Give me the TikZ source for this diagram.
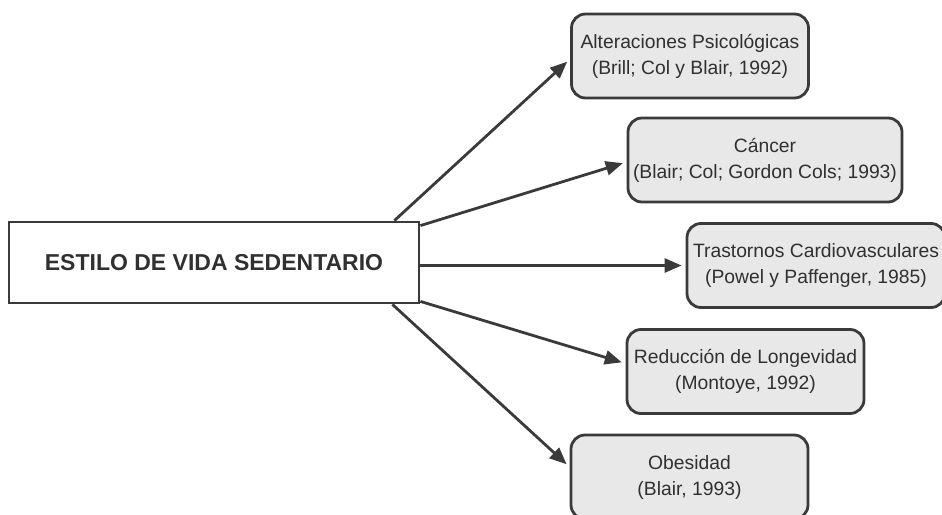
\documentclass[tikz,border=0pt]{standalone}
\usepackage{fontspec}
\setmainfont{Liberation Sans}
\usetikzlibrary{arrows.meta, positioning, calc}
\definecolor{Ink}{HTML}{303030}
\definecolor{Wire}{HTML}{3a3a3a}
\definecolor{Mist}{HTML}{e8e8e8}
\tikzset{
    causa/.style={draw=Wire, fill=white, line width=2.8pt, minimum width=410pt, minimum height=81pt, text=Ink, font=\fontsize{23}{27}\selectfont\bfseries},
    efecto/.style={draw=Wire, fill=Mist, line width=2.8pt, rounded corners=14pt, minimum width=237pt, minimum height=84pt, align=center, text=Ink, font=\fontsize{19.3}{26}\selectfont},
    flecha/.style={Wire, line width=2.8pt, -{Triangle[length=17pt, width=14pt]}, shorten >=4pt}
}
\begin{document}
\begin{tikzpicture}[x=1pt, y=-1pt]
            \useasboundingbox (0, 0) rectangle (942, 514);

            % Central box
            \node[causa] (sed) at (214, 262.5) {ESTILO DE VIDA SEDENTARIO};

            % Effects
            \node[efecto] (psi) at (690, 56) {Alteraciones Psicológicas\\(Brill; Col y Blair, 1992)};
            \node[efecto, minimum width=274pt] (can) at (765, 160) {Cáncer\\(Blair; Col; Gordon Cols; 1993)};
            \node[efecto, minimum width=258pt] (car) at (816, 265.5) {Trastornos Cardiovasculares\\(Powel y Paffenger, 1985)};
            \node[efecto] (lon) at (745.5, 371.5) {Reducción de Longevidad\\(Montoye, 1992)};
            \node[efecto] (obe) at (689.5, 477) {Obesidad\\(Blair, 1993)};

            \draw[flecha] ([xshift=-26pt]sed.north east) -- ([yshift=-3pt]psi.west);
            \draw[flecha] ([yshift=-5pt]sed.north east) -- ([yshift=-2pt]can.west);
            \draw[flecha] ([yshift=-3pt]sed.east) -- (car.west);
            \draw[flecha] ([yshift=3pt]sed.south east) -- ([yshift=8pt]lon.west);
            \draw[flecha] ([xshift=-28pt]sed.south east) -- ([yshift=10pt]obe.west);
        \end{tikzpicture}
\end{document}
